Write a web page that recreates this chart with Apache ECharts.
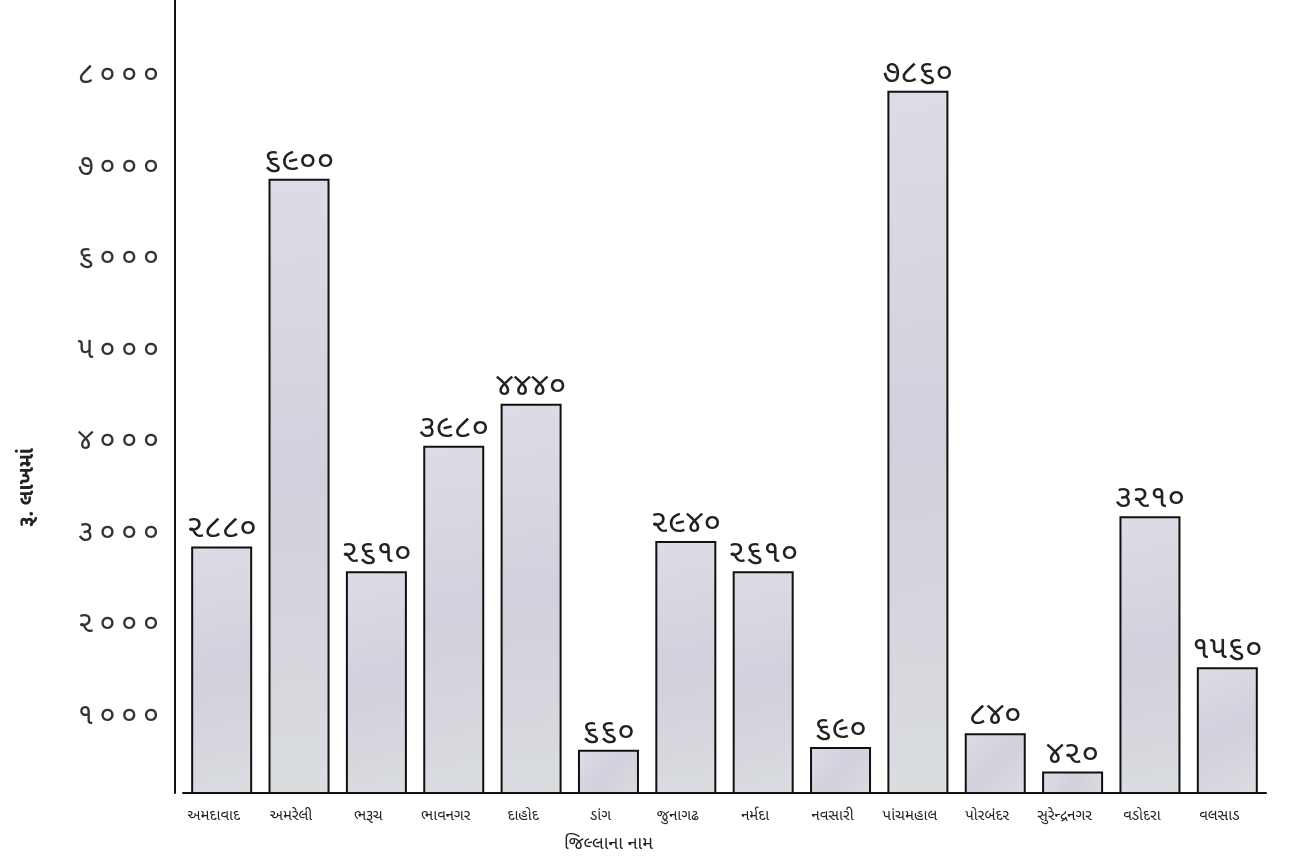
<!DOCTYPE html>
<html><head><meta charset="utf-8">
<script src="https://cdn.jsdelivr.net/npm/echarts@6/dist/echarts.min.js"></script>
<style>html,body{margin:0;padding:0;background:#fff}#c{width:1306px;height:863px}</style>
</head><body><div id="c"></div>
<script>
const districts = ['અમદાવાદ','અમરેલી','ભરૂચ','ભાવનગર','દાહોદ','ડાંગ','જુનાગઢ','નર્મદા','નવસારી','પાંચમહાલ','પોરબંદર','સુરેન્દ્રનગર','વડોદરા','વલસાડ'];
const amounts = [2880,6900,2610,3980,4440,660,2940,2610,690,7860,840,420,3210,1560];
const yTicks = [1000,2000,3000,4000,5000,6000,7000,8000];
const xName = 'જિલ્લાના નામ';
const yName = 'રૂ. લાખમાં';

const gu = s => String(s).replace(/[0-9]/g, d => '૦૧૨૩૪૫૬૭૮૯'[+d]);
const spaced = s => gu(s).split('').join('\u2009');
const FONT = '"Noto Sans Gujarati","Noto Sans","DejaVu Sans",sans-serif';

const chart = echarts.init(document.getElementById('c'), null, {renderer:'canvas'});
chart.setOption({
  animation:false,
  backgroundColor:'#ffffff',
  grid:{left:183, right:40, top:0, bottom:70, containLabel:false},
  xAxis:{
    type:'category', data:districts, boundaryGap:true,
    name:xName, nameLocation:'middle', nameGap:44,
    nameTextStyle:{fontSize:18, color:'#222', fontFamily:FONT, padding:[0,232,0,0]},
    axisLine:{lineStyle:{color:'#111', width:2}},
    axisTick:{show:false},
    axisLabel:{fontSize:15, color:'#222', margin:17, fontFamily:FONT, interval:0, padding:[0,16,0,0]}
  },
  yAxis:{
    type:'value', min:186, max:8853, offset:8,
    axisLine:{show:true, lineStyle:{color:'#111', width:2}},
    axisTick:{show:false},
    splitLine:{show:false},
    axisLabel:{customValues:yTicks, fontSize:29, color:'#333', margin:16, fontFamily:FONT,
      formatter:v => spaced(v)}
  },
  graphic:[{
    type:'text', left:19, top:448, rotation:Math.PI/2,
    style:{text:yName, fontSize:21, fontWeight:'bold', fill:'#222', fontFamily:FONT}
  }],
  series:[{
    type:'bar', data:amounts, barWidth:61,
    itemStyle:{
      color:new echarts.graphic.LinearGradient(0,0,1,1,[
        {offset:0,color:'#dedbe6'},{offset:0.5,color:'#d4cfdc'},{offset:1,color:'#d9dde0'}]),
      borderColor:'#111', borderWidth:2
    },
    label:{show:true, position:'top', distance:-1, fontSize:32, color:'#222', fontFamily:FONT,
      formatter:p => gu(p.value)}
  }]
});
</script></body></html>
